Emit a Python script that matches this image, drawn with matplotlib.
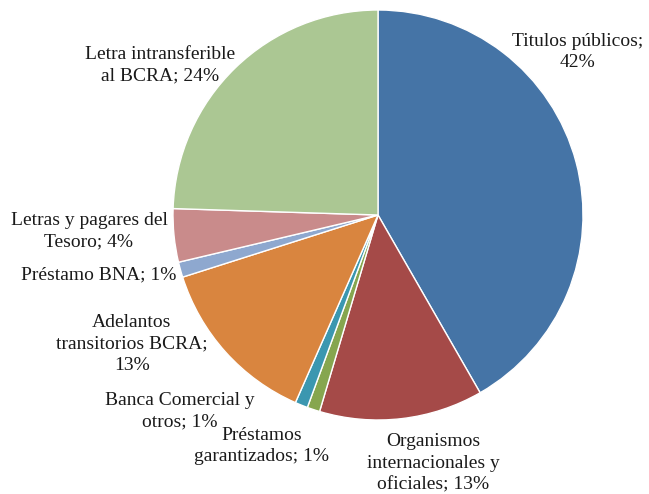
import matplotlib
matplotlib.use("Agg")
import matplotlib.pyplot as plt

labels = ["Titulos públicos;\n42%",
          "Organismos\ninternacionales y\noficiales; 13%",
          "Préstamos\ngarantizados; 1%",
          "Banca Comercial y\notros; 1%",
          "Adelantos\ntransitorios BCRA;\n13%",
          "Préstamo BNA; 1%",
          "Letras y pagares del\nTesoro; 4%",
          "Letra intransferible\nal BCRA; 24%"]
values = [41.7, 12.9, 1.0, 1.0, 13.5, 1.2, 4.2, 24.5]
colors = ["#4574a6", "#a54a48", "#86a64f", "#3b97b0",
          "#d9853f", "#8ea8cf", "#c98b8b", "#abc793"]

# label centres in pixels (x, y from top)
label_pos = [(578, 52), (433, 463), (262, 446), (180, 411),
             (132, 344), (99, 275), (89, 231), (160, 65)]

W, H = 649, 494
fig = plt.figure(figsize=(W / 100, H / 100), dpi=100)
cx, cy, r = 378, 215, 205
ax = fig.add_axes([(cx - r) / W, (H - cy - r) / H, 2 * r / W, 2 * r / H])
ax.pie(values, colors=colors, startangle=90, counterclock=False,
       wedgeprops=dict(edgecolor="white", linewidth=1.0))
ax.set_xlim(-1, 1)
ax.set_ylim(-1, 1)
ax.axis("off")

for lab, (x, y) in zip(labels, label_pos):
    fig.text(x / W, 1 - y / H, lab, ha="center", va="center",
             family="Liberation Serif", fontsize=14, color="#1a1a1a",
             linespacing=1.35)

fig.savefig("out.png", dpi=100)
